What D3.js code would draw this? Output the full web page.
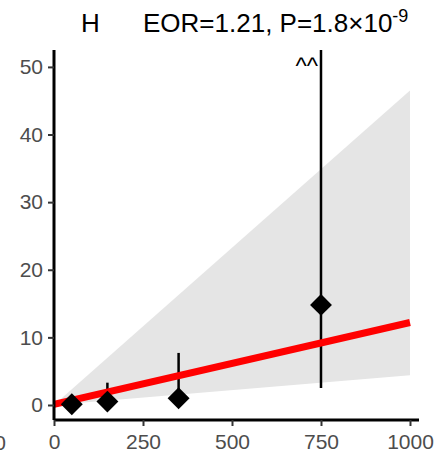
<!DOCTYPE html>
<html>
<head>
<meta charset="utf-8">
<script src="https://cdn.jsdelivr.net/npm/d3@7"></script>
<style>
  body { margin: 0; background: #fff; }
  text { font-family: "Liberation Sans", Arial, sans-serif; }
</style>
</head>
<body>
<svg id="chart" width="437" height="456"></svg>
<script>
const doses = [50, 150, 350, 750]
const ors = [0.1, 0.5, 1.0, 14.8]
const lowers = [0, 0, 0, 2.5]
const uppers = [0.9, 3.3, 7.7, 80]
const fitX = [0, 1000]
const fitY = [0.1, 12.2]
const bandLo = [0, 4.4]
const bandHi = [0, 46.5]
const xTicks = [0, 250, 500, 750, 1000]
const yTicks = [0, 10, 20, 30, 40, 50]

const svg = d3.select('#chart')
const pLeft = 54, pRight = 419, pTop = 50, pBottom = 420

const x = d3.scaleLinear().domain([0, 1025.3]).range([pLeft, pRight])
const y = d3.scaleLinear().domain([-2.22, 52.5]).range([pBottom, pTop])

svg.append('clipPath').attr('id', 'panel')
  .append('rect')
  .attr('x', pLeft).attr('y', pTop)
  .attr('width', pRight - pLeft).attr('height', pBottom - pTop)

const g = svg.append('g').attr('clip-path', 'url(#panel)')

// confidence band
const band = fitX.map((v, i) => ({ x: v, lo: bandLo[i], hi: bandHi[i] }))
g.append('path')
  .datum(band)
  .attr('fill', '#e5e5e5')
  .attr('d', d3.area().x(d => x(d.x)).y0(d => y(d.lo)).y1(d => y(d.hi)))

// error bars
const pts = doses.map((d, i) => ({ x: d, y: ors[i], lo: lowers[i], hi: uppers[i] }))
g.selectAll('.err')
  .data(pts)
  .enter()
  .append('line')
  .attr('class', 'err')
  .attr('x1', d => x(d.x)).attr('x2', d => x(d.x))
  .attr('y1', d => y(d.lo)).attr('y2', d => y(d.hi))
  .attr('stroke', '#000')
  .attr('stroke-width', 2.5)

// fitted line
g.append('path')
  .datum(fitX.map((v, i) => ({ x: v, y: fitY[i] })))
  .attr('fill', 'none')
  .attr('stroke', '#ff0000')
  .attr('stroke-width', 7)
  .attr('d', d3.line().x(d => x(d.x)).y(d => y(d.y)))

// diamonds
g.selectAll('.pt')
  .data(pts)
  .enter()
  .append('path')
  .attr('class', 'pt')
  .attr('d', d3.symbol().type(d3.symbolSquare).size(240))
  .attr('transform', d => 'translate(' + x(d.x) + ',' + y(d.y) + ') rotate(45)')
  .attr('fill', '#000')

// truncation marker
svg.append('text')
  .attr('x', x(750) - 3)
  .attr('y', 74)
  .attr('text-anchor', 'end')
  .attr('font-size', 24)
  .text('^^')

// axes
const xAxis = svg.append('g')
  .attr('transform', 'translate(0,' + pBottom + ')')
  .call(d3.axisBottom(x).tickValues(xTicks).tickFormat(d3.format('d')).tickSize(6).tickPadding(8))
const yAxis = svg.append('g')
  .attr('transform', 'translate(' + pLeft + ',0)')
  .call(d3.axisLeft(y).tickValues(yTicks).tickSize(6).tickPadding(5))

;[xAxis, yAxis].forEach(a => {
  a.select('.domain').attr('stroke', '#000').attr('stroke-width', 3)
  a.selectAll('.tick line').attr('stroke', '#333').attr('stroke-width', 2)
  a.selectAll('.tick text')
    .attr('fill', '#4d4d4d')
    .attr('font-size', 21)
    .style('font-family', '"Liberation Sans", Arial, sans-serif')
})
xAxis.select('.domain').attr('d', 'M' + pLeft + ',0H' + pRight)
yAxis.select('.domain').attr('d', 'M0,' + pBottom + 'V' + pTop)

// cut-off label from neighbouring panel
svg.append('text')
  .attr('x', 6).attr('y', 450)
  .attr('text-anchor', 'end')
  .attr('fill', '#4d4d4d')
  .attr('font-size', 21)
  .text('1000')

// title
const title = svg.append('text')
  .attr('y', 32)
  .attr('font-size', 26)
  .attr('fill', '#000')
title.append('tspan').attr('x', 81).text('H')
title.append('tspan').attr('x', 143).text('EOR=1.21, P=1.8×10')
title.append('tspan').attr('dy', -10).attr('font-size', 18).text('-9')
</script>
</body>
</html>
